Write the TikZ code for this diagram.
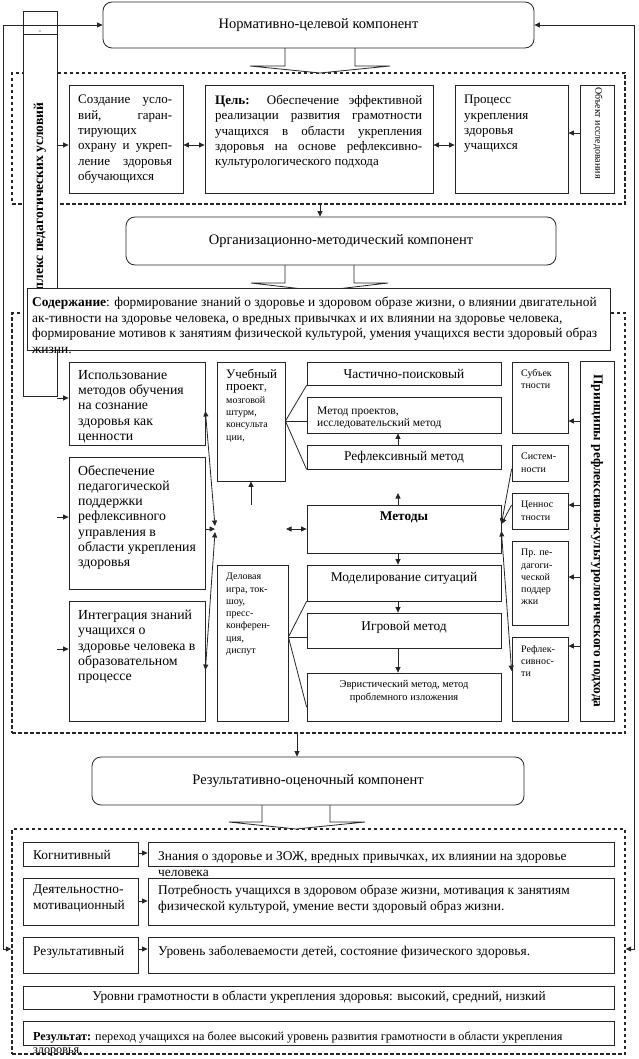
\documentclass[tikz,border=0pt]{standalone}
\usepackage{fontspec}
\setmainfont{Liberation Serif}
\usetikzlibrary{arrows.meta,fit,calc}
\newcommand\fsz[2]{\fontsize{#1}{#2}\selectfont}
\newcommand\jl[2]{\makebox[#1][s]{#2}}
\tikzset{
  bx/.style={draw=black!85, line width=0.8pt, fill=white, inner sep=0pt},
  rbx/.style={bx, rounded corners=9pt},
  dbox/.style={draw=black!85, line width=1.4pt, dash pattern=on 3.5pt off 2.5pt, inner sep=0pt},
  ln/.style={draw=black!85, line width=0.8pt},
  arr/.style={ln, -{Triangle[length=5.5pt,width=5pt]}},
  darr/.style={ln, {Triangle[length=5.5pt,width=5pt]}-{Triangle[length=5.5pt,width=5pt]}},
  tx/.style={inner sep=0pt, anchor=north west, align=left, font=\fsz{13}{15.3}},
  bt/.style={inner sep=0pt, anchor=north west, align=left, font=\fsz{13.4}{16}},
  sx/.style={inner sep=0pt, anchor=north west, align=left, font=\fsz{10}{12.3}},
  cx/.style={inner sep=0pt, align=center, font=\fsz{13.4}{15.3}},
  ttl/.style={inner sep=0pt, font=\fsz{14.5}{16}},
}
\begin{document}
\begin{tikzpicture}[x=1pt,y=-1pt]
\useasboundingbox (0,0) rectangle (638,1059);

% dashed groups
\node[dbox, fit={(12,73)(625,204)}] (d1) {};
\node[dbox, fit={(12,313)(625,733)}] (d2) {};
\node[dbox, fit={(12,829)(625,1054)}] (d3) {};

% block arrows
\path[bx] (285,47) -- (285,66) -- (250,66) -- (320,73) -- (390,66) -- (355,66) -- (355,47);
\path[bx] (285,264) -- (285,283) -- (251,283) -- (320,291) -- (388,283) -- (354,283) -- (354,264);
\path[bx] (262,804) -- (262,822) -- (229,822) -- (296,829) -- (365,822) -- (330,822) -- (330,804);

% left vertical box
\node[bx, fit={(23,11)(57,396)}] (lb) {};
\draw[ln] (lb.west |- 0,34) -- (lb.east |- 0,34);
\node[inner sep=0pt, rotate=90, font=\bfseries\fsz{13.6}{15}] (lbt) at (40,209) {Комплекс педагогических условий};
\node[inner sep=0pt, rotate=90, font=\fsz{4}{5}] (lbz) at (40,32) {з};

% top component
\node[rbx, fit={(103,2)(534,48)}] (n1) {};
\node[ttl] (n1t) at (n1.center) {Нормативно-целевой компонент};

% first group
\node[bx, fit={(69,85)(183,193)}] (s1) {};
\node[tx] (s1t) at (78,95) {\jl{94pt}{Создание усло-}\\\jl{94pt}{вий, гаран-}\\тирующих\\\jl{94pt}{охрану и укреп-}\\\jl{94pt}{ление здоровья}\\обучающихся};
\node[bx, fit={(205,85)(433,193)}] (g) {};
\node[tx] (gt) at (215,95) {\jl{207pt}{\textbf{Цель:} Обеспечение эффективной}\\\jl{207pt}{реализации развития грамотности}\\\jl{207pt}{учащихся в области укрепления}\\\jl{207pt}{здоровья на основе рефлексивно-}\\культурологического подхода};
\node[bx, fit={(455,85)(568,193)}] (pr) {};
\node[tx] (prt) at (464,95) {Процесс\\укрепления\\здоровья\\учащихся};
\node[bx, fit={(580,85)(614,193)}] (ob) {};
\node[inner sep=0pt, rotate=-90, font=\fsz{10}{11}] (obt) at (598,133) {Объект исследования};

% organisational component
\node[rbx, fit={(126,217)(556,265)}] (n2) {};
\node[ttl] (n2t) at (n2.center) {Организационно-методический компонент};

% content
\node[bx, fit={(27,288)(610,350)}] (ct) {};
\node[bt, font=\fsz{13.4}{15.6}] (ctt) at (32,297) {\textbf{Содержание}: формирование знаний о здоровье и здоровом образе жизни, о влиянии двигательной\\ак-тивности на здоровье человека, о вредных привычках и их влиянии на здоровье человека,\\формирование мотивов к занятиям физической культурой, умения учащихся вести здоровый образ\\жизни.};

% left column
\node[bx, fit={(69,362)(205,445)}] (u1) {};
\node[tx, font=\fsz{13.8}{15.3}] (u1t) at (78,370) {Использование\\методов обучения\\на сознание\\здоровья как\\ценности};
\node[bx, fit={(69,457)(205,589)}] (u2) {};
\node[tx, font=\fsz{13.8}{15.3}] (u2t) at (78,465) {Обеспечение\\педагогической\\поддержки\\рефлексивного\\управления в\\области укрепления\\здоровья};
\node[bx, fit={(69,601)(205,721)}] (u3) {};
\node[tx, font=\fsz{13.8}{15.3}] (u3t) at (78,610) {Интеграция знаний\\учащихся о\\здоровье человека в\\образовательном\\процессе};

% second column
\node[bx, fit={(217,362)(285,481)}] (p1) {};
\node[sx] (p1t) at (226,369) {{\fsz{13}{14}Учебный}\\{\fsz{13}{14}проект\textcolor{red}{,}}\\мозговой\\штурм,\\консульта\\ции,};
\node[bx, fit={(217,565)(288,721)}] (p2) {};
\node[sx] (p2t) at (226,573) {Деловая\\игра, ток-\\шоу,\\пресс-\\конферен-\\ция,\\диспут};

% centre column
\node[bx, fit={(307,362)(501,385)}] (c1) {};
\node[cx] (c1t) at (404,373.5) {Частично-поисковый};
\node[bx, fit={(307,397)(501,433)}] (c2) {};
\node[tx, font=\fsz{11.5}{12.5}] (c2t) at (317,406.5) {Метод проектов,\\исследовательский метод};
\node[bx, fit={(307,445)(501,469)}] (c3) {};
\node[cx] (c3t) at (404,457.5) {Рефлексивный метод};
\node[bx, fit={(307,505)(501,553)}] (m) {};
\node[cx, font=\bfseries\fsz{13.4}{15}] (mt) at (404,517) {Методы};
\node[bx, fit={(307,565)(501,601)}] (c4) {};
\node[cx] (c4t) at (404,578) {Моделирование ситуаций};
\node[bx, fit={(307,613)(501,648)}] (c5) {};
\node[cx] (c5t) at (404,627) {Игровой метод};
\node[bx, fit={(307,673)(501,721)}] (c6) {};
\node[cx, font=\fsz{10.5}{12.3}, anchor=north] (c6t) at (404,680.5) {Эвристический метод, метод\\проблемного изложения};

% principles
\node[bx, fit={(512,362)(568,433)}] (r1) {};
\node[sx] (r1t) at (521,369) {Субъек\\тности};
\node[bx, fit={(512,445)(568,481)}] (r2) {};
\node[sx] (r2t) at (521,453) {Систем-\\ности};
\node[bx, fit={(512,493)(568,529)}] (r3) {};
\node[sx] (r3t) at (521,501) {Ценнос\\тности};
\node[bx, fit={(512,541)(568,625)}] (r4) {};
\node[sx] (r4t) at (521,549) {Пр. пе-\\дагоги-\\ческой\\поддер\\жки};
\node[bx, fit={(512,637)(568,721)}] (r5) {};
\node[sx] (r5t) at (521,645) {Рефлек-\\сивнос-\\ти};
\node[bx, fit={(580,361)(614,721)}] (pp) {};
\node[inner sep=0pt, rotate=-90, font=\bfseries\fsz{13.4}{15}] (ppt) at (597,541) {Принципы рефлексивно-культурологического подхода};

% result component
\node[rbx, fit={(92,757)(524,805)}] (n3) {};
\node[ttl] (n3t) at (n3.center) {Результативно-оценочный компонент};

\node[bx, fit={(23,842)(138,866)}] (k1) {};
\node[bt] (k1t) at (33,850) {Когнитивный};
\node[bx, fit={(148,842)(614,866)}] (k2) {};
\node[bt] (k2t) at (158,851) {Знания о здоровье и ЗОЖ, вредных привычках, их влиянии на здоровье\\человека};
\node[bx, fit={(23,878)(138,925)}] (q1) {};
\node[bt] (q1t) at (33,885) {Деятельностно-\\мотивационный};
\node[bx, fit={(148,878)(614,925)}] (q2) {};
\node[bt] (q2t) at (158,885) {Потребность учащихся в здоровом образе жизни, мотивация к занятиям\\физической культурой, умение вести здоровый образ жизни.};
\node[bx, fit={(23,937)(138,973)}] (w1) {};
\node[bt] (w1t) at (33,946) {Результативный};
\node[bx, fit={(148,937)(614,973)}] (w2) {};
\node[bt] (w2t) at (158,946) {Уровень заболеваемости детей, состояние физического здоровья.};
\node[bx, fit={(23,986)(614,1009)}] (lv) {};
\node[cx, font=\fsz{13.3}{15}] (lvt) at (319,997.5) {Уровни грамотности в области укрепления здоровья: высокий, средний, низкий};
\node[bx, fit={(23,1021)(614,1045)}] (rs) {};
\node[bt, font=\fsz{12.2}{13}] (rst) at (33,1031.5) {\textbf{Результат:} переход учащихся на более высокий уровень развития грамотности в области укрепления\\здоровья.};

% ---------- connectors ----------
\coordinate (L1) at (3,25);
\coordinate (L2) at (3,949);
\coordinate (R1) at (634,25);
\coordinate (R2) at (634,949);
\draw[darr] (n1.west) -- (L1) -- (L2) -- (d3.west |- L2);
\draw[darr] (n1.east) -- (R1) -- (R2) -- (d3.east |- R2);

\draw[arr] (lb.east |- 0,145) -- (s1.west |- 0,145);
\draw[darr] (s1.east |- 0,145) -- (g.west |- 0,145);
\draw[darr] (g.east |- 0,145) -- (pr.west |- 0,145);
\draw[arr] (ob.west |- 0,133) -- (pr.east |- 0,133);
\draw[arr] (d1.south -| 320,0) -- (n2.north -| 320,0);

\coordinate (a1) at (57,398);
\coordinate (a2) at (57,517);
\coordinate (a3) at (57,649);
\draw[arr] (a1) -- (u1.west |- a1);
\draw[arr] (a2) -- (u2.west |- a2);
\draw[arr] (a3) -- (u3.west |- a3);

\coordinate (jx) at (215,529);
\coordinate (jt) at (215,526);
\coordinate (jb) at (215,532);
\draw[darr] (u1.east |- 0,411) -- (jt);
\draw[darr] (u3.east |- 0,670) -- (jb);
\draw[arr] (u2.east |- jx) -- (jx);

\coordinate (pa) at (251,505);
\draw[arr] (pa) -- (p1.south -| pa);

\draw[ln] (p1.east |- 0,421) -- (c1.south west);
\draw[ln] (p1.east |- 0,421) -- (c2.west |- 0,421);
\draw[ln] (p1.east |- 0,421) -- (c3.south west);
\draw[ln] (p2.east |- 0,637) -- (c4.south west);
\draw[ln] (p2.east |- 0,637) -- (c5.west |- 0,637);
\draw[ln] (p2.east |- 0,637) -- (c6.west |- 0,707);

\draw[arr] (c3.north -| 398,0) -- (c2.south -| 398,0);
\coordinate (mu) at (398,493);
\draw[arr] (m.north -| mu) -- (mu);
\draw[arr] (m.south -| 398,0) -- (c4.north -| 398,0);
\draw[arr] (c4.south -| 398,0) -- (c5.north -| 398,0);
\draw[arr] (c5.south -| 398,0) -- (c6.north -| 398,0);
\coordinate (ml) at (286,529);
\draw[darr] (ml) -- (m.west |- ml);

\draw[arr] (pp.west |- 0,421) -- (r1.east |- 0,421);
\draw[arr] (pp.west |- 0,505) -- (r3.east |- 0,505);
\draw[arr] (pp.west |- 0,577) -- (r4.east |- 0,577);
\draw[arr] (pp.west |- 0,646) -- (r5.east |- 0,646);
\draw[arr] (r2.west |- 0,469) -- (m.east |- 0,524);
\draw[arr] (r3.west |- 0,505) -- (m.east |- 0,524);
\draw[darr] (m.east |- 0,531) -- (r5.west |- 0,671);

\draw[arr] (d2.south -| 297,0) -- (n3.north -| 297,0);

\draw[arr] (k1.east |- 0,853) -- (k2.west |- 0,853);
\draw[arr] (q1.east |- 0,901) -- (q2.west |- 0,901);
\draw[arr] (w1.east |- 0,949) -- (w2.west |- 0,949);
\end{tikzpicture}
\end{document}
